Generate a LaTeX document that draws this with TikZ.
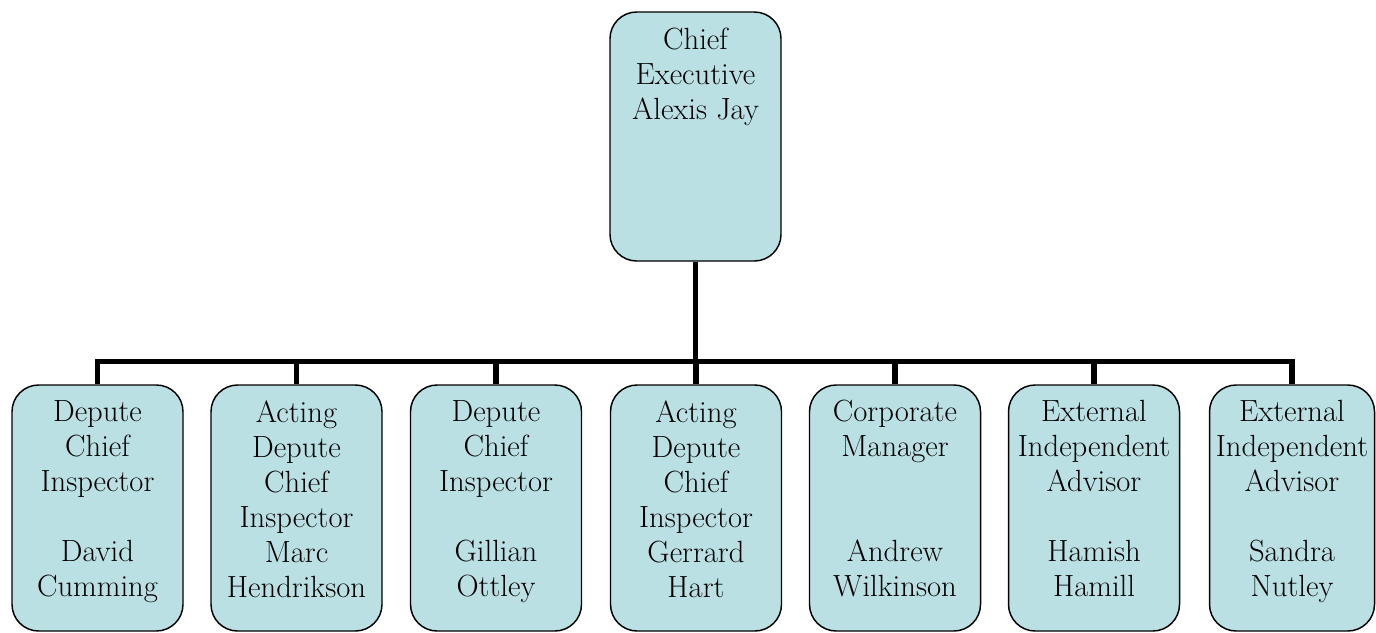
\documentclass[tikz,border=0pt]{standalone}
\definecolor{boxfill}{RGB}{187,224,227}
\tikzset{
  box/.style={draw=black, line width=1.1pt, fill=boxfill, rounded corners=20pt,
    minimum width=128.25pt, minimum height=184.5pt, inner sep=0pt},
  boxtext/.style={anchor=north, align=center, inner sep=0pt, yshift=-12pt,
    font=\fontsize{23}{26.25}\selectfont},
  link/.style={line width=3.9pt}
}
\begin{document}
\begin{tikzpicture}[x=0.75pt,y=-0.75pt]
    \useasboundingbox (0,0) rectangle (1376,632);

    % The chief executive
    \node[box, minimum height=186.75pt] (ceo) at (695.5,136.5) {};
    \node[boxtext] (ceotext) at (ceo.north) {Chief\\Executive\\Alexis Jay};

    % The boxes below
    \foreach \x/\name in {97.5/d1, 296.5/d2, 496/d3, 696/d4, 895/d5, 1094/d6}
      \node[box] (\name) at (\x,508) {};
    \node[box, minimum width=123.75pt] (d7) at (1292,508) {};

    % The texts
    \node[boxtext] (d1text) at (d1.north) {Depute\\Chief\\Inspector\\[26.25pt]David\\Cumming};
    \node[boxtext] (d2text) at (d2.north) {Acting\\Depute\\Chief\\Inspector\\Marc\\Hendrikson};
    \node[boxtext] (d3text) at (d3.north) {Depute\\Chief\\Inspector\\[26.25pt]Gillian\\Ottley};
    \node[boxtext] (d4text) at (d4.north) {Acting\\Depute\\Chief\\Inspector\\Gerrard\\Hart};
    \node[boxtext] (d5text) at (d5.north) {Corporate\\Manager\\[52.5pt]Andrew\\Wilkinson};
    \node[boxtext] (d6text) at (d6.north) {External\\Independent\\Advisor\\[26.25pt]Hamish\\Hamill};
    \node[boxtext] (d7text) at (d7.north) {External\\Independent\\Advisor\\[26.25pt]Sandra\\Nutley};

    % The lines
    \coordinate (bar) at (0,361.5);
    \draw[link] (ceo.south) -- (ceo.south |- bar);
    \draw[link] (d1.north) -- (d1.north |- bar) -- (d7.north |- bar) -- (d7.north);
    \foreach \name in {d2,d3,d4,d5,d6}
      \draw[link] (\name.north) -- (\name.north |- bar);

\end{tikzpicture}
\end{document}
